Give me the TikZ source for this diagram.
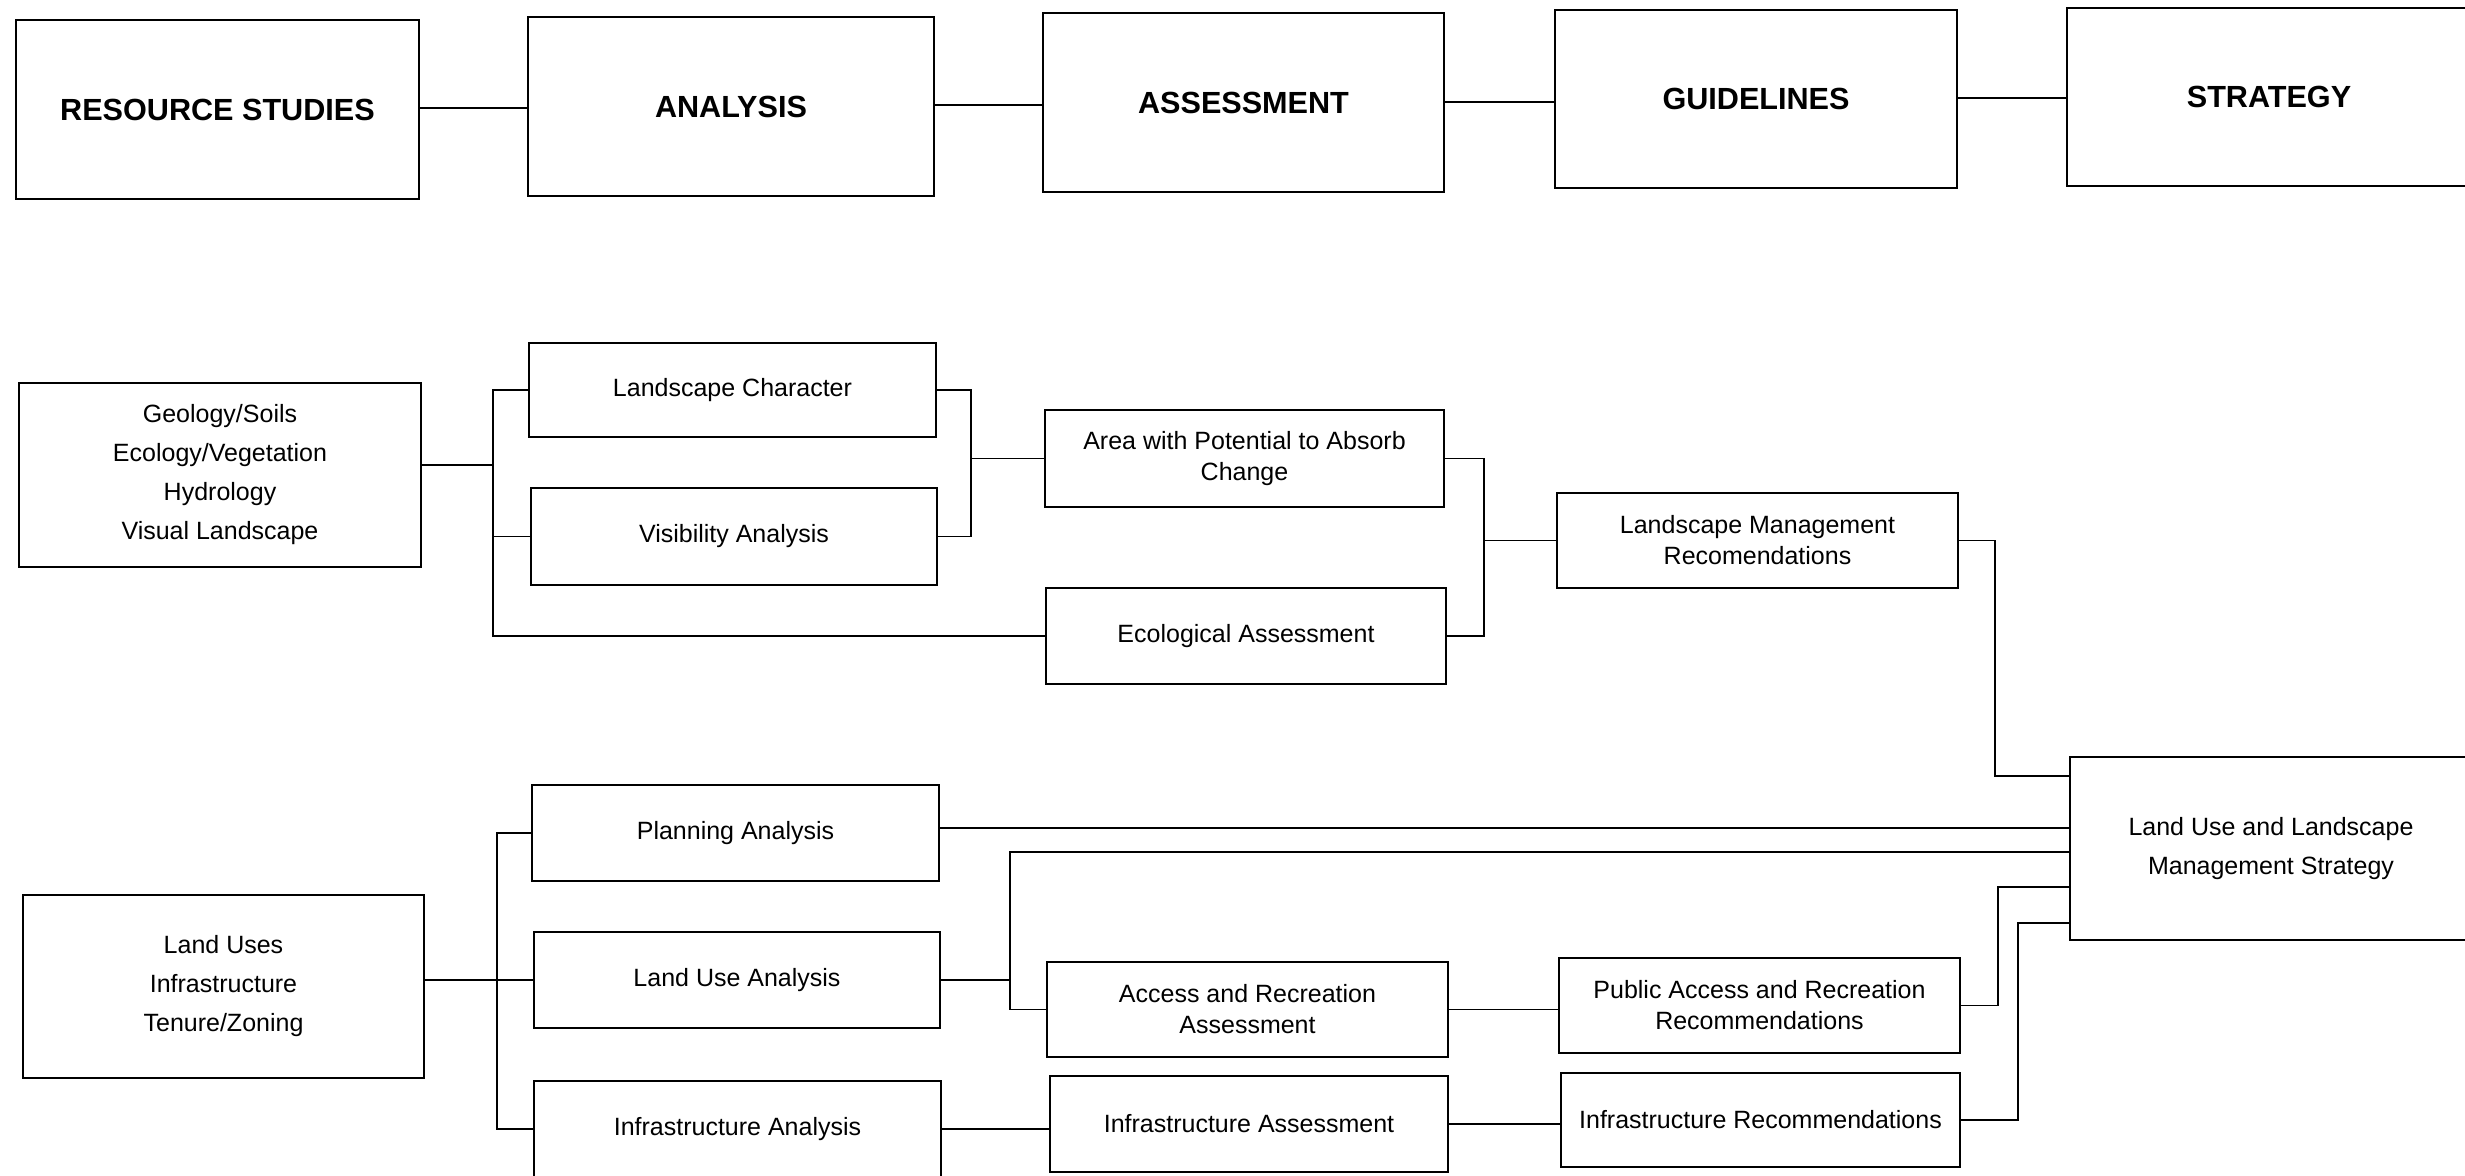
\documentclass[tikz,border=0pt]{standalone}
\usepackage{fontspec}
\setmainfont{Liberation Sans}
\begin{document}
\begin{tikzpicture}[x=0.5pt,y=-0.5pt,
  box/.style={draw, line width=1pt, inner sep=0pt, align=center, font=\fontsize{12.5}{15.5}\selectfont},
  head/.style={box, font=\fontsize{15.3}{18}\selectfont\bfseries},
  wide/.style={font=\fontsize{12.5}{19.5}\selectfont},
  conn/.style={line width=0.6pt}]
\useasboundingbox (0,0) rectangle (2465,1175);
\clip (0,0) rectangle (2465,1175);
\fill[white] (0,0) rectangle (2465,1175);

% top row
\node[head, minimum width=201.5pt, minimum height=89.5pt] (rs) at (217.5,109.5) {RESOURCE STUDIES};
\node[head, minimum width=203pt, minimum height=89.5pt] (an) at (731,106.5) {ANALYSIS};
\node[head, minimum width=200.5pt, minimum height=89.5pt] (as) at (1243.5,102.5) {ASSESSMENT};
\node[head, minimum width=201pt, minimum height=89pt] (gu) at (1756,99) {GUIDELINES};
\node[head, minimum width=202pt, minimum height=89pt] (st) at (2269,97) {STRATEGY};
\draw[conn] (rs.east |- 0,108) -- (an.west |- 0,108);
\draw[conn] (an.east |- 0,105) -- (as.west |- 0,105);
\draw[conn] (as.east |- 0,102) -- (gu.west |- 0,102);
\draw[conn] (gu.east |- 0,98) -- (st.west |- 0,98);

% group 1
\node[box, wide, minimum width=201pt, minimum height=92pt] (geo) at (220,475) {Geology/Soils\\Ecology/Vegetation\\Hydrology\\Visual Landscape};
\node[box, minimum width=203.5pt, minimum height=47pt] (lc) at (732.5,390) {Landscape Character};
\node[box, minimum width=203pt, minimum height=48.5pt] (va) at (734,536.5) {Visibility Analysis};
\node[box, minimum width=199.5pt, minimum height=48.5pt] (area) at (1244.5,458.5) {Area with Potential to Absorb\\Change};
\node[box, minimum width=200pt, minimum height=48pt] (eco) at (1246,636) {Ecological Assessment};
\node[box, minimum width=200.5pt, minimum height=47.5pt] (lm) at (1757.5,540.5) {Landscape Management\\Recomendations};
\node[box, wide, minimum width=201pt, minimum height=91.5pt] (lus) at (2271,848.5) {Land Use and Landscape\\Management Strategy};

\coordinate (v1) at (493,0);
\coordinate (v2) at (971,0);
\coordinate (v3) at (1484,0);
\coordinate (v4) at (1995,0);
\coordinate (e1) at (2070,776);

\draw[conn] (geo.east |- 0,465) -- (v1 |- 0,465);
\draw[conn] (lc.west) -- (lc.west -| v1) -- (eco.west -| v1) -- (eco.west);
\draw[conn] (va.west) -- (va.west -| v1);
\draw[conn] (lc.east) -- (lc.east -| v2) -- (va.east -| v2) -- (va.east);
\draw[conn] (area.west) -- (area.west -| v2);
\draw[conn] (area.east) -- (area.east -| v3) -- (eco.east -| v3) -- (eco.east);
\draw[conn] (lm.west) -- (lm.west -| v3);
\draw[conn] (lm.east) -- (lm.east -| v4) -- (v4 |- e1) -- (e1);

% group 2
\node[box, wide, minimum width=200.5pt, minimum height=91.5pt] (lu) at (223.5,986.5) {Land Uses\\Infrastructure\\Tenure/Zoning};
\node[box, minimum width=203.5pt, minimum height=48pt] (pa) at (735.5,833) {Planning Analysis};
\node[box, minimum width=203pt, minimum height=48pt] (lua) at (737,980) {Land Use Analysis};
\node[box, minimum width=203.5pt, minimum height=48pt] (ia) at (737.5,1129) {Infrastructure Analysis};
\node[box, minimum width=200.5pt, minimum height=47.5pt] (ara) at (1247.5,1009.5) {Access and Recreation\\Assessment};
\node[box, minimum width=200.5pt, minimum height=47.5pt] (pubr) at (1759.5,1005.5) {Public Access and Recreation\\Recommendations};
\node[box, minimum width=199pt, minimum height=48pt] (inas) at (1249,1124) {Infrastructure Assessment};
\node[box, minimum width=199.5pt, minimum height=47pt] (inr) at (1760.5,1120) {Infrastructure Recommendations};

\coordinate (v5) at (497,0);
\coordinate (v6) at (1010,0);
\coordinate (v7) at (1998,0);
\coordinate (v8) at (2018,0);
\coordinate (e2) at (2070,828);
\coordinate (e3) at (2070,852);
\coordinate (e4) at (2070,887);
\coordinate (e5) at (2070,923);

\draw[conn] (lu.east |- lua.west) -- (lua.west);
\draw[conn] (pa.west) -- (pa.west -| v5) -- (ia.west -| v5) -- (ia.west);
\draw[conn] (pa.east |- e2) -- (e2);
\draw[conn] (lua.east) -- (lua.east -| v6);
\draw[conn] (e3) -- (e3 -| v6) -- (ara.west -| v6) -- (ara.west);
\draw[conn] (ara.east) -- (ara.east -| pubr.west);
\draw[conn] (pubr.east) -- (pubr.east -| v7) -- (v7 |- e4) -- (e4);
\draw[conn] (ia.east) -- (ia.east -| inas.west);
\draw[conn] (inas.east) -- (inas.east -| inr.west);
\draw[conn] (inr.east) -- (inr.east -| v8) -- (v8 |- e5) -- (e5);
\end{tikzpicture}
\end{document}
